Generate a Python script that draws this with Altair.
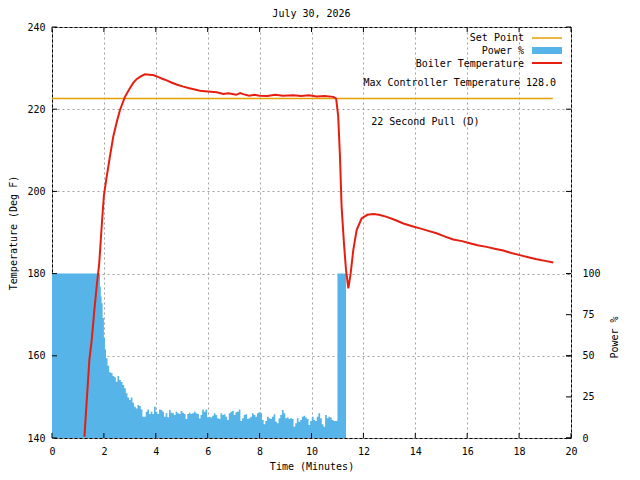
import pandas as pd
import altair as alt

FONT = "DejaVu Sans Mono"

# boiler temperature readings (minutes, deg F)
temp_time = [1.25, 1.34, 1.44, 1.53, 1.62, 1.72, 1.82, 1.92, 2.0, 2.1, 2.23, 2.36,
             2.5, 2.62, 2.81, 3.0, 3.13, 3.26, 3.42, 3.58, 3.75, 3.9, 4.1, 4.25,
             4.42, 4.6, 4.8, 5.06, 5.3, 5.5, 5.7, 6.0, 6.35, 6.6, 6.8, 7.1, 7.25,
             7.4, 7.6, 7.8, 8.0, 8.3, 8.6, 8.9, 9.3, 9.6, 9.9, 10.2, 10.5, 10.84,
             10.95, 11.03, 11.1, 11.16, 11.25, 11.33, 11.42, 11.51, 11.61, 11.74,
             11.93, 12.15, 12.38, 12.6, 12.9, 13.2, 13.54, 13.85, 14.18, 14.5,
             14.82, 15.15, 15.46, 15.8, 16.1, 16.4, 16.75, 17.1, 17.39, 17.7,
             18.03, 18.35, 18.68, 19.0, 19.32]
temp_degf = [140.3, 149.2, 159.0, 163.8, 170.3, 176.8, 182.5, 192.0, 199.0, 203.3,
             208.4, 213.3, 217.0, 219.8, 223.0, 225.1, 226.4, 227.3, 228.0, 228.5,
             228.4, 228.3, 227.8, 227.4, 227.0, 226.5, 226.0, 225.5, 225.1, 224.8,
             224.5, 224.3, 224.1, 223.7, 223.9, 223.5, 223.9, 223.6, 223.3, 223.5,
             223.3, 223.2, 223.5, 223.3, 223.4, 223.2, 223.4, 223.1, 223.2, 223.0,
             222.6, 218.2, 208.0, 196.3, 187.4, 180.9, 176.4, 180.1, 185.7, 190.6,
             193.4, 194.3, 194.5, 194.3, 193.8, 193.1, 192.2, 191.6, 191.0, 190.4,
             189.8, 189.0, 188.3, 187.9, 187.4, 186.9, 186.5, 186.0, 185.6, 185.0,
             184.5, 184.0, 183.5, 183.1, 182.7]

# set point
setpoint_time = [0.0, 19.3]
setpoint_degf = [222.6, 222.6]

# controller output: full power heat-up, then ramp down
power_head_time = [0.0, 1.82, 1.85, 1.88, 1.91, 1.95, 2.0, 2.04, 2.08]
power_head_pct = [100, 100, 92, 86, 82, 73, 61, 54, 48.5]
# logged output, one reading every 0.064 min starting at 2.14 min
power_log_start = 2.14
power_log_step = 0.064
power_log_pct = [
    44, 40, 39.5, 37.7, 36.9, 34.2, 37.7, 35.3, 34, 32.2, 30.2, 27.2, 24.7, 23.1,
    24.7, 21.5, 19, 18, 20, 19.5, 17.4, 13, 13, 16, 17.4, 14.6, 16, 14.6, 19, 16,
    14.6, 17.4, 17, 16, 13, 15, 12.6, 17, 15.4, 15, 14, 16, 15, 14.6, 16.4, 15.4,
    14.6, 11.5, 14.6, 15.4, 14.6, 15, 16, 15, 14.6, 11.9, 14, 17.4, 16, 17.4, 12.6,
    13,
    12.4, 13.6, 15, 14, 12, 11.6, 15, 14, 14.4, 13, 11, 15, 16, 16.4, 14, 15.6, 16,
    17.4, 10.3, 12, 14, 14.4, 11.6, 12, 13, 15, 14, 13, 15, 15.6, 15, 11, 8.3, 10.3,
    13, 12, 11.6, 13, 14.4, 9.9, 8.9, 12, 14, 17, 15, 12, 12.4, 11.6, 12, 11.6, 6.9,
    8.9, 12, 9.9, 11, 13, 13.6, 12.4, 11.6, 7.9, 10.3, 13, 11, 10.3, 13, 15, 12, 8.3,
    6.9, 14, 12, 13, 12.4, 11, 10.3, 10.3, 10.3,
]
# the pull
power_tail_time = [11.0, 11.33]
power_tail_pct = [100, 0]

# axis tick values
x_ticks = [0, 2, 4, 6, 8, 10, 12, 14, 16, 18, 20]
temp_ticks = [140, 160, 180, 200, 220, 240]
power_ticks = [0, 25, 50, 75, 100]

W, H = 519, 411

temp_df = pd.DataFrame({"t": temp_time, "T": temp_degf})
set_df = pd.DataFrame({"t": setpoint_time, "T": setpoint_degf})
log_time = [power_log_start + power_log_step * i for i in range(len(power_log_pct))]
power_df = pd.DataFrame({
    "t": power_head_time + log_time + power_tail_time,
    "P": power_head_pct + power_log_pct + power_tail_pct,
})
one = pd.DataFrame({"a": [0]})

x_scale = alt.Scale(domain=[0, 20], nice=False, zero=False)
temp_scale = alt.Scale(domain=[140, 240], nice=False, zero=False)
power_scale = alt.Scale(domain=[0, 250], nice=False, zero=False)

x_axis = alt.Axis(
    values=x_ticks, title="Time (Minutes)", grid=True, labelPadding=8,
    labelFlush=False, titleX=W / 2, titleY=28, titleBaseline="middle",
)
temp_axis = alt.Axis(
    orient="left", values=temp_ticks, title="Temperature (Deg F)", grid=True,
    labelPadding=7, labelFlush=False, titleAngle=270, titleX=-39, titleY=H / 2,
    titleAlign="center", titleBaseline="middle",
)
power_axis = alt.Axis(
    orient="right", values=power_ticks, title="Power %", grid=False,
    labelPadding=11, labelFlush=False, titleAngle=270, titleX=43.5, titleY=310,
    titleAlign="center", titleBaseline="middle",
)


def xq(field):
    return alt.X(field, type="quantitative", scale=x_scale, axis=x_axis)


def tq(field):
    return alt.Y(field, type="quantitative", scale=temp_scale, axis=temp_axis)


def pq(field):
    return alt.Y(field, type="quantitative", scale=power_scale, axis=power_axis)


# power %
area = alt.Chart(power_df).mark_area(
    color="#56b4e9", opacity=1, interpolate="step-after"
).encode(x=xq("t"), y=pq("P"))
pticks = alt.Chart(pd.DataFrame({"v": power_ticks})).mark_rule(
    color="black", strokeWidth=1
).encode(y=pq("v"), x=alt.value(W - 5), x2=alt.value(W))
power_layer = alt.layer(area, pticks)

# temperature side
setline = alt.Chart(set_df).mark_line(color="#e69f00", strokeWidth=1.5).encode(
    x=xq("t"), y=tq("T")
)
templine = alt.Chart(temp_df).mark_line(
    color="#e51e10", strokeWidth=2, clip=True
).encode(x=xq("t"), y=tq("T"))

tick_df = pd.DataFrame({"v": temp_ticks})
tticks_l = alt.Chart(tick_df).mark_rule(color="black").encode(
    y=tq("v"), x=alt.value(0), x2=alt.value(5)
)
tticks_r = alt.Chart(tick_df).mark_rule(color="black").encode(
    y=tq("v"), x=alt.value(W - 5), x2=alt.value(W)
)
xt_df = pd.DataFrame({"v": x_ticks})
xticks_b = alt.Chart(xt_df).mark_rule(color="black").encode(
    x=xq("v"), y=alt.value(H - 5), y2=alt.value(H)
)
xticks_t = alt.Chart(xt_df).mark_rule(color="black").encode(
    x=xq("v"), y=alt.value(0), y2=alt.value(5)
)

note_style = dict(font=FONT, fontSize=10, align="left", baseline="middle", color="black")
note1 = alt.Chart(one).mark_text(**note_style).encode(
    x=alt.XDatum(12.0, scale=x_scale, axis=x_axis),
    y=alt.YDatum(226.4, scale=temp_scale, axis=temp_axis),
    text=alt.value("Max Controller Temperature 128.0"),
)
note2 = alt.Chart(one).mark_text(**note_style).encode(
    x=alt.XDatum(12.3, scale=x_scale, axis=x_axis),
    y=alt.YDatum(216.9, scale=temp_scale, axis=temp_axis),
    text=alt.value("22 Second Pull (D)"),
)

# title and key, placed in the frame
title = alt.Chart(one).mark_text(
    font=FONT, fontSize=10, align="center", baseline="middle", color="black"
).encode(x=alt.value(W / 2), y=alt.value(-13), text=alt.value("July 30, 2026"))

leg_style = dict(font=FONT, fontSize=10, align="right", baseline="middle", color="black")
leg_t1 = alt.Chart(one).mark_text(**leg_style).encode(
    x=alt.value(472), y=alt.value(11), text=alt.value("Set Point"))
leg_t2 = alt.Chart(one).mark_text(**leg_style).encode(
    x=alt.value(472), y=alt.value(24), text=alt.value("Power %"))
leg_t3 = alt.Chart(one).mark_text(**leg_style).encode(
    x=alt.value(472), y=alt.value(37), text=alt.value("Boiler Temperature"))
leg_s1 = alt.Chart(one).mark_rule(color="#e69f00", strokeWidth=1.5).encode(
    x=alt.value(480), x2=alt.value(510), y=alt.value(11))
leg_s2 = alt.Chart(one).mark_rect(color="#56b4e9").encode(
    x=alt.value(480), x2=alt.value(510), y=alt.value(20), y2=alt.value(27))
leg_s3 = alt.Chart(one).mark_rule(color="#e51e10", strokeWidth=2).encode(
    x=alt.value(480), x2=alt.value(510), y=alt.value(36))

temp_layer = alt.layer(
    setline, templine, tticks_l, tticks_r, xticks_b, xticks_t, note1, note2,
    title, leg_t1, leg_t2, leg_t3, leg_s1, leg_s2, leg_s3,
)

chart = alt.layer(power_layer, temp_layer).resolve_scale(
    y="independent"
).properties(
    width=W,
    height=H,
    autosize=alt.AutoSizeParams(type="none"),
    padding={"left": 44, "top": 19, "right": 60, "bottom": 34},
).configure_axis(
    domain=False,
    ticks=False,
    gridColor="#a0a0a0",
    gridDash=[2, 3],
    gridWidth=1,
    labelFont=FONT,
    labelFontSize=10,
    labelColor="black",
    titleFont=FONT,
    titleFontSize=10,
    titleFontWeight="normal",
    titleColor="black",
).configure_view(
    stroke="black", strokeWidth=1
)

chart.save("out.html", embed_options={"renderer": "svg", "actions": False})
